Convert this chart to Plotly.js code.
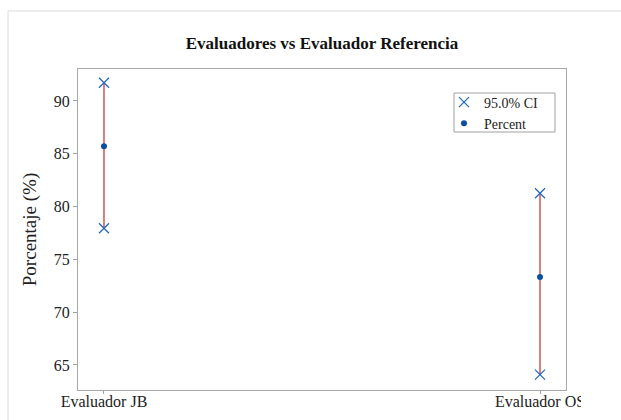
<!DOCTYPE html>
<html>
<head>
<meta charset="utf-8">
<script src="https://cdn.plot.ly/plotly-3.0.1.min.js"></script>
<style>html,body{margin:0;padding:0;background:#fff;}#chart{width:621px;height:420px;}</style>
</head>
<body>
<div id="chart"></div>
<script>
// Data
const categories = ["Evaluador JB", "Evaluador OS"];
const percent = [85.71, 73.33];
const ciLower = [77.95, 64.08];
const ciUpper = [91.73, 81.26];
const yTicks = [65, 70, 75, 80, 85, 90];

const FONT = "Liberation Serif, Times New Roman, serif";
const BLUE = "#1f64c0";
const DOT = "#0a4fa3";
const RED = "#c23b3b";

const ciX = [], ciY = [];
categories.forEach((c, i) => { ciX.push(c, c); ciY.push(ciLower[i], ciUpper[i]); });

const traces = [
  {
    type: "scatter", mode: "markers", name: "Percent",
    x: categories, y: percent, legendrank: 2,
    marker: {symbol: "circle", size: 6, color: DOT},
    error_y: {
      type: "data", symmetric: false,
      array: percent.map((p, i) => ciUpper[i] - p),
      arrayminus: percent.map((p, i) => p - ciLower[i]),
      color: RED, thickness: 1.3, width: 0
    }
  },
  {
    type: "scatter", mode: "markers", name: "95.0% CI",
    x: ciX, y: ciY, legendrank: 1,
    marker: {symbol: "x-thin-open", size: 10, color: BLUE, line: {color: BLUE, width: 1.2}}
  }
];

const L = 78, R = 566, T = 69, B = 390, W = 621, H = 420;
const pw = R - L, ph = B - T;
const px = v => (v - L) / pw;
const py = v => (B - v) / ph;

const layout = {
  width: W, height: H,
  margin: {l: L, r: W - R, t: T, b: H - B, pad: 0},
  paper_bgcolor: "#fff", plot_bgcolor: "#fff",
  font: {family: FONT, color: "#222", size: 16},
  showlegend: true,
  title: {
    text: "<b>Evaluadores vs Evaluador Referencia</b>",
    font: {family: FONT, size: 17, color: "#111"},
    xref: "paper", x: 0.5, xanchor: "center",
    yref: "container", y: 1 - 43 / H, yanchor: "middle"
  },
  xaxis: {
    type: "category", range: [-0.0596, 1.0596],
    showgrid: false, zeroline: false,
    showline: true, linecolor: "#a8a8a8", linewidth: 1, mirror: true,
    ticks: "outside", ticklen: 3, tickcolor: "#a0a0a0",
    ticklabelstandoff: -6,
    tickfont: {family: FONT, size: 16, color: "#222"}
  },
  yaxis: {
    range: [62.63, 93.03], tickvals: yTicks,
    showgrid: false, zeroline: false,
    showline: true, linecolor: "#a8a8a8", linewidth: 1, mirror: true,
    ticks: "outside", ticklen: 4, tickcolor: "#a0a0a0",
    tickfont: {family: FONT, size: 16, color: "#222"},
    title: {text: "Porcentaje (%)", font: {family: FONT, size: 19, color: "#222"}, standoff: 12}
  },
  legend: {
    x: px(444), y: py(86.5), xanchor: "left", yanchor: "top",
    bgcolor: "rgba(0,0,0,0)", borderwidth: 0,
    font: {family: FONT, size: 14, color: "#222"},
    tracegroupgap: 0, itemwidth: 30
  },
  shapes: [
    {type: "line", xref: "paper", yref: "paper", x0: px(8), x1: px(W + 5), y0: py(11), y1: py(11), line: {color: "#dcdcdc", width: 1}},
    {type: "line", xref: "paper", yref: "paper", x0: px(8), x1: px(8), y0: py(11), y1: py(H + 5), line: {color: "#dcdcdc", width: 1}},
    {type: "rect", xref: "paper", yref: "paper", layer: "below", x0: px(454), x1: px(555), y0: py(132), y1: py(93), fillcolor: "#fff", line: {color: "#a0a0a0", width: 1}},
    {type: "rect", xref: "paper", yref: "paper", layer: "above", x0: px(581), x1: px(W + 5), y0: py(H + 5), y1: py(B + 2), fillcolor: "#fff", line: {width: 0}}
  ]
};

Plotly.newPlot("chart", traces, layout, {displayModeBar: false, staticPlot: true});
</script>
</body>
</html>
